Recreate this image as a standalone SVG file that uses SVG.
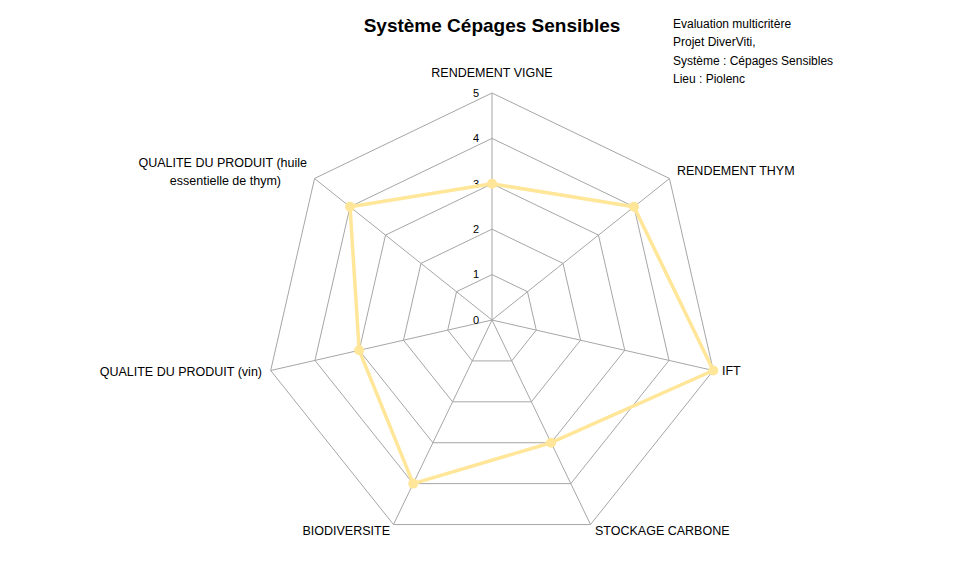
<svg xmlns="http://www.w3.org/2000/svg" width="979" height="587" viewBox="0 0 979 587">
<defs>
<style>
.g{fill:none;stroke:#a6a6a6;stroke-width:1}
.a{stroke:#a6a6a6;stroke-width:1}
text{font-family:"Liberation Sans",Arial,sans-serif;fill:#000}
.l{font-size:12.5px}
.t{font-size:11px;fill:#000;text-anchor:end}
.s{font-size:12px}
</style>
</defs>
<rect width="979" height="587" fill="#fff"/>
<g id="grid">
<polygon class="g" points="492,274.6 527.49,291.69 536.26,330.1 511.7,360.91 472.3,360.91 447.74,330.1 456.51,291.69"/>
<polygon class="g" points="492,229.2 562.98,263.38 580.52,340.2 531.4,401.82 452.6,401.82 403.48,340.2 421.02,263.38"/>
<polygon class="g" points="492,183.8 598.47,235.07 624.78,350.3 551.1,442.73 432.9,442.73 359.22,350.3 385.53,235.07"/>
<polygon class="g" points="492,138.4 633.96,206.76 669.04,360.4 570.8,483.64 413.2,483.64 314.96,360.4 350.04,206.76"/>
<polygon class="g" points="492,93 669.45,178.45 713.3,370.5 590.5,524.55 393.5,524.55 270.7,370.5 314.55,178.45"/>
<line class="a" x1="492" y1="320" x2="492" y2="93"/>
<line class="a" x1="492" y1="320" x2="669.5" y2="178.5"/>
<line class="a" x1="492" y1="320" x2="713.3" y2="370.5"/>
<line class="a" x1="492" y1="320" x2="590.5" y2="524.5"/>
<line class="a" x1="492" y1="320" x2="393.5" y2="524.5"/>
<line class="a" x1="492" y1="320" x2="270.7" y2="370.5"/>
<line class="a" x1="492" y1="320" x2="314.5" y2="178.5"/>
</g>
<g id="ticks">
<text class="t" x="479" y="324">0</text>
<text class="t" x="479" y="278">1</text>
<text class="t" x="479" y="233">2</text>
<text class="t" x="479" y="188">3</text>
<text class="t" x="479" y="142">4</text>
<text class="t" x="479" y="97">5</text>
</g>
<g id="series">
<polygon points="492,183.8 633.96,206.76 713.3,370.5 551.1,442.7 413.2,483.6 359.2,350.3 350,206.8" fill="none" stroke="#ffe699" stroke-width="3.5" stroke-linejoin="round"/>
<g fill="#ffe699">
<circle cx="492" cy="183.8" r="5"/><circle cx="633.96" cy="206.76" r="5"/><circle cx="713.3" cy="370.5" r="5"/><circle cx="551.1" cy="442.7" r="5"/><circle cx="413.2" cy="483.6" r="5"/><circle cx="359.2" cy="350.3" r="5"/><circle cx="350" cy="206.8" r="5"/>
</g>
</g>
<g id="labels">
<text class="l" x="492" y="77" text-anchor="middle">RENDEMENT VIGNE</text>
<text class="l" x="677" y="175">RENDEMENT THYM</text>
<text class="l" x="722" y="375">IFT</text>
<text class="l" x="595" y="535">STOCKAGE CARBONE</text>
<text class="l" x="390" y="535" text-anchor="end">BIODIVERSITE</text>
<text class="l" x="262" y="376" text-anchor="end">QUALITE DU PRODUIT (vin)</text>
<text class="l" x="307" y="167" text-anchor="end">QUALITE DU PRODUIT (huile</text>
<text class="l" x="281" y="185" text-anchor="end">essentielle de thym)</text>
</g>
<g id="title">
<text x="492" y="32" text-anchor="middle" font-size="19" font-weight="bold">Système Cépages Sensibles</text>
<text class="s" x="673" y="28">Evaluation multicritère</text>
<text class="s" x="673" y="46">Projet DiverViti,</text>
<text class="s" x="673" y="65">Système : Cépages Sensibles</text>
<text class="s" x="673" y="83">Lieu : Piolenc</text>
</g>
</svg>
